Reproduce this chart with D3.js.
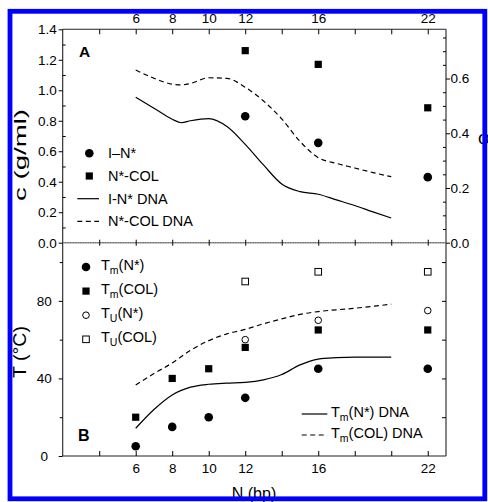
<!DOCTYPE html>
<html>
<head>
<meta charset="utf-8">
<script src="https://cdn.jsdelivr.net/npm/d3@7.9.0/dist/d3.min.js"></script>
<style>
  body { margin: 0; background: #fff; }
  svg { display: block; font-family: 'Liberation Sans', Arial, sans-serif; }
  .axis text { font-size: 13.5px; fill: #000; }
  .axis line { stroke: #000; stroke-width: 1; }
  .axis .domain { display: none; }
</style>
</head>
<body>
<svg id="chart" width="488" height="502"></svg>
<script>
// ---- data ----
// panel A: concentrations (g/ml)
const nPts = [12, 16, 22];
const cIN = [0.83, 0.655, 0.43];      // I–N*
const cNCOL = [1.26, 1.17, 0.885];    // N*-COL

const nDnaA = [6, 7, 8, 8.5, 9, 10, 11, 12, 13, 14, 15, 16, 17, 18, 19, 20];
const cDnaIN = [0.954, 0.882, 0.81, 0.787, 0.80, 0.814, 0.762, 0.645, 0.51, 0.385, 0.335, 0.318, 0.281, 0.244, 0.202, 0.162];
const cDnaNCOL = [1.133, 1.079, 1.04, 1.035, 1.045, 1.082, 1.078, 1.02, 0.93, 0.812, 0.665, 0.558, 0.52, 0.49, 0.46, 0.433];

// panel B: temperatures (°C)
const nT = [6, 8, 10, 12, 16, 22];
const tmN = [5, 15, 20, 30, 45, 45];
const tmCOL = [20, 40, 45, 56, 65, 65];
const nU = [12, 16, 22];
const tuN = [60, 70, 75];
const tuCOL = [90, 95, 95];

const nDnaB = [6, 7, 8, 9, 10, 11, 12, 13, 14, 15, 16, 17, 18, 19, 20];
const tmDnaN = [14.3, 24, 31.5, 35.5, 37, 37.6, 38, 39.3, 42, 47, 50, 50.7, 51, 51, 51];
const tmDnaCOL = [36.6, 42.5, 48, 54.5, 59.5, 63, 65.3, 68.2, 70.7, 73, 74.5, 75.4, 76.2, 77.2, 78.3];

// ticks
const xTicks = [4, 6, 8, 10, 12, 14, 16, 18, 20, 22];
const xLabels = [6, 8, 10, 12, 16, 22];
const cTicks = [0, 0.2, 0.4, 0.6, 0.8, 1.0, 1.2, 1.4];
const cMinor = [0.1, 0.3, 0.5, 0.7, 0.9, 1.1, 1.3];
const phiTicks = [0, 0.2, 0.4, 0.6];
const phiMinor = [0.05, 0.1, 0.15, 0.25, 0.3, 0.35, 0.45, 0.5, 0.55, 0.65, 0.7, 0.75];
const tTicks = [0, 20, 40, 60, 80, 100];
const tLabels = [0, 40, 80];

// ---- layout ----
const pLeft = 62.7, pRight = 446, pTop = 29.3, pMid = 242.7, pBottom = 456;

const x = d3.scaleLinear().domain([2, 23]).range([pLeft, pRight]);
const yA = d3.scaleLinear().domain([0, 1.4]).range([pMid, pTop]);
const yAR = d3.scaleLinear().domain([0, 0.78]).range([pMid, pTop]);
const yB = d3.scaleLinear().domain([0, 110]).range([pBottom, pMid]);

const svg = d3.select('#chart');
svg.append('rect').attr('width', 488).attr('height', 502).attr('fill', '#fff');

// frame
const frame = svg.append('g').attr('stroke', '#222').attr('stroke-width', 1.1);
frame.append('line').attr('x1', pLeft).attr('x2', pLeft).attr('y1', pTop).attr('y2', pBottom);
frame.append('line').attr('x1', pRight).attr('x2', pRight).attr('y1', pTop).attr('y2', pBottom);
frame.append('line').attr('x1', pLeft).attr('x2', pRight).attr('y1', pTop).attr('y2', pTop);
frame.append('line').attr('x1', pLeft).attr('x2', pRight).attr('y1', pBottom).attr('y2', pBottom);

// middle zero line (shared by both panels)
svg.append('line')
  .attr('x1', pLeft).attr('x2', pRight).attr('y1', pMid).attr('y2', pMid)
  .attr('stroke', '#999').attr('stroke-width', 1.6);
svg.append('line')
  .attr('x1', pLeft).attr('x2', pRight).attr('y1', pMid).attr('y2', pMid)
  .attr('stroke', '#000').attr('stroke-width', 0.8)
  .attr('stroke-dasharray', '1,1.5').attr('opacity', 0.5);

const fmtX = d => xLabels.includes(d) ? d : '';

// top x axis
svg.append('g').attr('class', 'axis').attr('transform', `translate(0,${pTop})`)
  .call(d3.axisTop(x).tickValues(xTicks).tickSize(-5).tickPadding(6.3).tickFormat(fmtX));
// bottom x axis
svg.append('g').attr('class', 'axis').attr('transform', `translate(0,${pBottom})`)
  .call(d3.axisBottom(x).tickValues(xTicks).tickSize(-5).tickPadding(7.5).tickFormat(fmtX));
// ticks on the middle line, both sides
svg.append('g').attr('class', 'axis').attr('transform', `translate(0,${pMid})`)
  .call(d3.axisBottom(x).tickValues(xTicks).tickSize(3).tickFormat(''));
svg.append('g').attr('class', 'axis').attr('transform', `translate(0,${pMid})`)
  .call(d3.axisTop(x).tickValues(xTicks).tickSize(3).tickFormat(''));

// panel A left axis
svg.append('g').attr('class', 'axis').attr('transform', `translate(${pLeft},0)`)
  .call(d3.axisLeft(yA).tickValues(cTicks).tickSize(4).tickPadding(2).tickFormat(d3.format('.1f')));
svg.append('g').attr('class', 'axis').attr('transform', `translate(${pLeft},0)`)
  .call(d3.axisLeft(yA).tickValues(cMinor).tickSize(-3).tickFormat(''));

// panel A right axis
svg.append('g').attr('class', 'axis').attr('transform', `translate(${pRight},0)`)
  .call(d3.axisRight(yAR).tickValues(phiTicks).tickSize(4).tickPadding(0.5).tickFormat(d3.format('.1f')));
svg.append('g').attr('class', 'axis').attr('transform', `translate(${pRight},0)`)
  .call(d3.axisRight(yAR).tickValues(phiMinor).tickSize(-3).tickFormat(''));

// panel B left axis
const gBL = svg.append('g').attr('class', 'axis').attr('transform', `translate(${pLeft},0)`)
  .call(d3.axisLeft(yB).tickValues(tTicks).tickSize(4)
    .tickFormat(d => tLabels.includes(d) ? d : ''));
gBL.selectAll('text').attr('text-anchor', 'middle').attr('x', -18.5);
gBL.selectAll('.tick').filter(d => !tLabels.includes(d)).select('line').attr('x2', -3);

// panel B right axis
svg.append('g').attr('class', 'axis').attr('transform', `translate(${pRight},0)`)
  .call(d3.axisRight(yB).tickValues(tTicks.filter(d => d > 0)).tickSize(-4).tickFormat(''));

// ---- curves ----
function curve(xs, ys, yScale, dashed) {
  const line = d3.line()
    .x((d, i) => x(xs[i]))
    .y(d => yScale(d))
    .curve(d3.curveMonotoneX);
  svg.append('path')
    .attr('d', line(ys))
    .attr('fill', 'none')
    .attr('stroke', '#000')
    .attr('stroke-width', 1.2)
    .attr('stroke-dasharray', dashed ? '5,3.5' : null);
}
curve(nDnaA, cDnaIN, yA, false);
curve(nDnaA, cDnaNCOL, yA, true);
curve(nDnaB, tmDnaN, yB, false);
curve(nDnaB, tmDnaCOL, yB, true);

// ---- markers ----
function marker(g, kind, cx, cy) {
  if (kind === 'circle') {
    g.append('circle').attr('cx', cx).attr('cy', cy).attr('r', 4.3).attr('fill', '#000');
  } else if (kind === 'square') {
    g.append('rect').attr('x', cx - 3.6).attr('y', cy - 3.6).attr('width', 7.2).attr('height', 7.2).attr('fill', '#000');
  } else if (kind === 'ocircle') {
    g.append('circle').attr('cx', cx).attr('cy', cy).attr('r', 3.3)
      .attr('fill', '#fff').attr('stroke', '#000').attr('stroke-width', 1);
  } else if (kind === 'osquare') {
    g.append('rect').attr('x', cx - 3.3).attr('y', cy - 3.3).attr('width', 6.6).attr('height', 6.6)
      .attr('fill', '#fff').attr('stroke', '#000').attr('stroke-width', 1);
  }
}
function scatter(xs, ys, yScale, kind) {
  const g = svg.append('g');
  xs.forEach((n, i) => marker(g, kind, x(n), yScale(ys[i])));
}
scatter(nPts, cIN, yA, 'circle');
scatter(nPts, cNCOL, yA, 'square');
scatter(nT, tmN, yB, 'circle');
scatter(nT, tmCOL, yB, 'square');
scatter(nU, tuN, yB, 'ocircle');
scatter(nU, tuCOL, yB, 'osquare');

// ---- legends ----
function subLabel(g, tx, ty, base, sub, rest) {
  const t = g.append('text').attr('x', tx).attr('y', ty).attr('font-size', 14.5);
  t.append('tspan').text(base);
  if (sub) {
    t.append('tspan').attr('dy', 4).attr('font-size', 10.5).text(sub);
    t.append('tspan').attr('dy', -4).text(rest);
  }
}
function legendLine(g, x1, x2, y, dashed) {
  g.append('line').attr('x1', x1).attr('x2', x2).attr('y1', y).attr('y2', y)
    .attr('stroke', '#000').attr('stroke-width', 1.2)
    .attr('stroke-dasharray', dashed ? '5,3.5' : null);
}

const legA = [
  { kind: 'circle', base: 'I\u2013N*' },
  { kind: 'square', base: 'N*-COL' },
  { kind: 'solid', base: 'I-N* DNA' },
  { kind: 'dash', base: 'N*-COL DNA' }
];
const gLA = svg.append('g');
legA.forEach((d, i) => {
  const y = 153.3 + i * 22.7;
  if (d.kind === 'solid' || d.kind === 'dash') legendLine(gLA, 77.3, 99, y, d.kind === 'dash');
  else marker(gLA, d.kind, 89.3, y);
  subLabel(gLA, 108, y + 5, d.base);
});

const legB = [
  { kind: 'circle', sub: 'm', rest: '(N*)' },
  { kind: 'square', sub: 'm', rest: '(COL)' },
  { kind: 'ocircle', sub: 'U', rest: '(N*)' },
  { kind: 'osquare', sub: 'U', rest: '(COL)' }
];
const gLB = svg.append('g');
legB.forEach((d, i) => {
  const y = 267 + i * 24.1;
  marker(gLB, d.kind, 86, y);
  subLabel(gLB, 101, y + 2.5, 'T', d.sub, d.rest);
});

const legB2 = [
  { dashed: false, rest: '(N*) DNA' },
  { dashed: true, rest: '(COL) DNA' }
];
const gLB2 = svg.append('g');
legB2.forEach((d, i) => {
  const y = 414 + i * 21;
  legendLine(gLB2, 301.7, 327.3, y, d.dashed);
  subLabel(gLB2, 331, y + 3, 'T', 'm', d.rest);
});

// panel letters
svg.append('text').attr('x', 79).attr('y', 56.7).attr('font-size', 15.5).attr('font-weight', 'bold').text('A');
svg.append('text').attr('x', 78).attr('y', 441).attr('font-size', 16).attr('font-weight', 'bold').text('B');

// axis titles
svg.append('text')
  .attr('transform', 'translate(25.5,155) rotate(-90)')
  .attr('text-anchor', 'middle').attr('font-size', 16)
  .attr('textLength', 92).attr('lengthAdjust', 'spacingAndGlyphs')
  .text('c (g/ml)');
svg.append('text')
  .attr('transform', 'translate(25.5,352) rotate(-90)')
  .attr('text-anchor', 'middle').attr('font-size', 17.5)
  .attr('textLength', 52).attr('lengthAdjust', 'spacingAndGlyphs')
  .text('T (\u00b0C)');
svg.append('text')
  .attr('x', 254).attr('y', 499).attr('text-anchor', 'middle').attr('font-size', 16)
  .text('N (bp)');
svg.append('text')
  .attr('x', 478).attr('y', 144).attr('font-size', 18)
  .text('\u03c6');

// blue border on top
svg.append('rect')
  .attr('x', 10).attr('y', 11.3).attr('width', 474.8).attr('height', 487.5)
  .attr('fill', 'none').attr('stroke', '#0000ff').attr('stroke-width', 4.8);
</script>
</body>
</html>
